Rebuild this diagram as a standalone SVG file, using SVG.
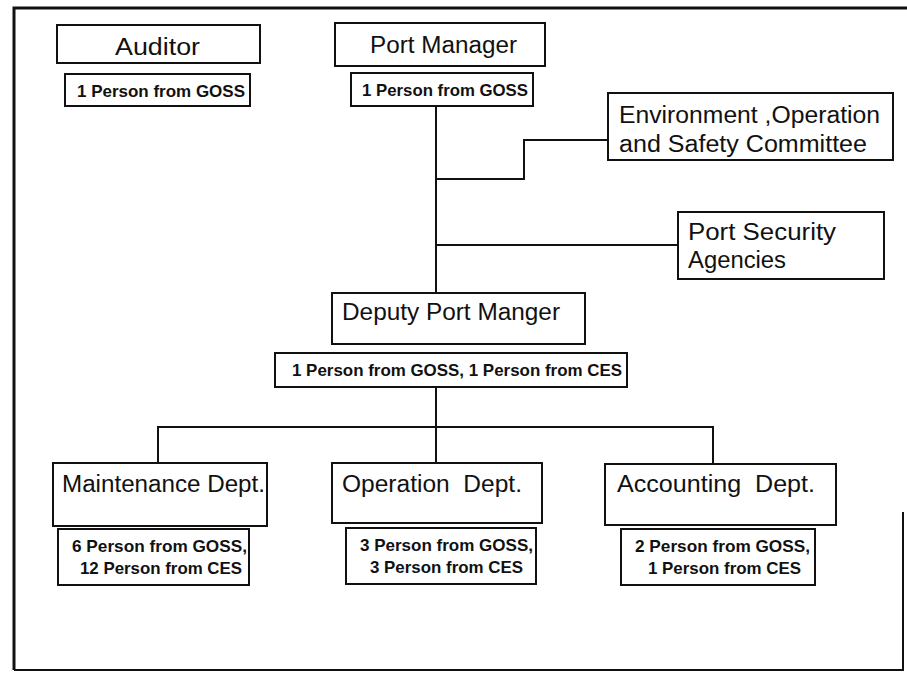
<svg xmlns="http://www.w3.org/2000/svg" width="907" height="675" viewBox="0 0 907 675">
<style>
.box{fill:#fff;stroke:#111;stroke-width:2}
.lbl{font-family:"Liberation Sans",Arial,sans-serif;font-size:23px;fill:#111;white-space:pre}
.sub{font-family:"Liberation Sans",Arial,sans-serif;font-size:17px;font-weight:bold;fill:#111}
.conn{fill:none;stroke:#111;stroke-width:2}
.frame{fill:none;stroke:#111}
</style>
<rect width="907" height="675" fill="#fff"/>
<g id="frame">
<path class="frame" d="M14,670 L14,8 L907,8" stroke-width="3"/>
<path class="frame" d="M14,670 L903,670 L903,512" stroke-width="2"/>
</g>
<g id="connectors">
<path class="conn" d="M436,106 L436,293"/>
<path class="conn" d="M436,179 L524,179 L524,140 L608,140"/>
<path class="conn" d="M436,245 L678,245"/>
<path class="conn" d="M436,387 L436,463"/>
<path class="conn" d="M158,463 L158,427 L713,427 L713,464"/>
</g>
<g id="auditor">
<rect class="box" x="57" y="25" width="203" height="38"/>
<text class="lbl" x="115" y="55" textLength="85" lengthAdjust="spacingAndGlyphs">Auditor</text>
<rect class="box" x="65" y="74" width="185" height="32"/>
<text class="sub" x="77" y="97" textLength="168" lengthAdjust="spacingAndGlyphs">1 Person from GOSS</text>
</g>
<g id="port-manager">
<rect class="box" x="335" y="23" width="210" height="43"/>
<text class="lbl" x="370" y="53" textLength="147" lengthAdjust="spacingAndGlyphs">Port Manager</text>
<rect class="box" x="351" y="73" width="182" height="33"/>
<text class="sub" x="362" y="96" textLength="166" lengthAdjust="spacingAndGlyphs">1 Person from GOSS</text>
</g>
<g id="committee">
<rect class="box" x="608" y="93" width="285" height="67"/>
<text class="lbl" x="619" y="123" textLength="261" lengthAdjust="spacingAndGlyphs">Environment ,Operation</text>
<text class="lbl" x="619" y="152" textLength="248" lengthAdjust="spacingAndGlyphs">and Safety Committee</text>
</g>
<g id="security">
<rect class="box" x="678" y="212" width="206" height="67"/>
<text class="lbl" x="688" y="240" textLength="148" lengthAdjust="spacingAndGlyphs">Port Security</text>
<text class="lbl" x="688" y="268" textLength="98" lengthAdjust="spacingAndGlyphs">Agencies</text>
</g>
<g id="deputy">
<rect class="box" x="332" y="293" width="253" height="51"/>
<text class="lbl" x="342" y="320" textLength="218" lengthAdjust="spacingAndGlyphs">Deputy Port Manger</text>
<rect class="box" x="275" y="353" width="352" height="34"/>
<text class="sub" x="292" y="376" textLength="330" lengthAdjust="spacingAndGlyphs">1 Person from GOSS, 1 Person from CES</text>
</g>
<g id="maintenance">
<rect class="box" x="53" y="463" width="214" height="63"/>
<text class="lbl" x="62" y="492" textLength="203" lengthAdjust="spacingAndGlyphs">Maintenance Dept.</text>
<rect class="box" x="58" y="529" width="191" height="56"/>
<text class="sub" x="72" y="552" textLength="175" lengthAdjust="spacingAndGlyphs">6 Person from GOSS,</text>
<text class="sub" x="80" y="574" textLength="162" lengthAdjust="spacingAndGlyphs">12 Person from CES</text>
</g>
<g id="operation">
<rect class="box" x="332" y="463" width="210" height="60"/>
<text class="lbl" x="342" y="492" textLength="180" lengthAdjust="spacingAndGlyphs" xml:space="preserve">Operation  Dept.</text>
<rect class="box" x="346" y="528" width="190" height="56"/>
<text class="sub" x="360" y="551" textLength="173" lengthAdjust="spacingAndGlyphs">3 Person from GOSS,</text>
<text class="sub" x="370" y="573" textLength="153" lengthAdjust="spacingAndGlyphs">3 Person from CES</text>
</g>
<g id="accounting">
<rect class="box" x="605" y="464" width="231" height="61"/>
<text class="lbl" x="617" y="492" textLength="198" lengthAdjust="spacingAndGlyphs" xml:space="preserve">Accounting  Dept.</text>
<rect class="box" x="621" y="529" width="194" height="56"/>
<text class="sub" x="635" y="552" textLength="175" lengthAdjust="spacingAndGlyphs">2 Person from GOSS,</text>
<text class="sub" x="648" y="574" textLength="153" lengthAdjust="spacingAndGlyphs">1 Person from CES</text>
</g>
</svg>
